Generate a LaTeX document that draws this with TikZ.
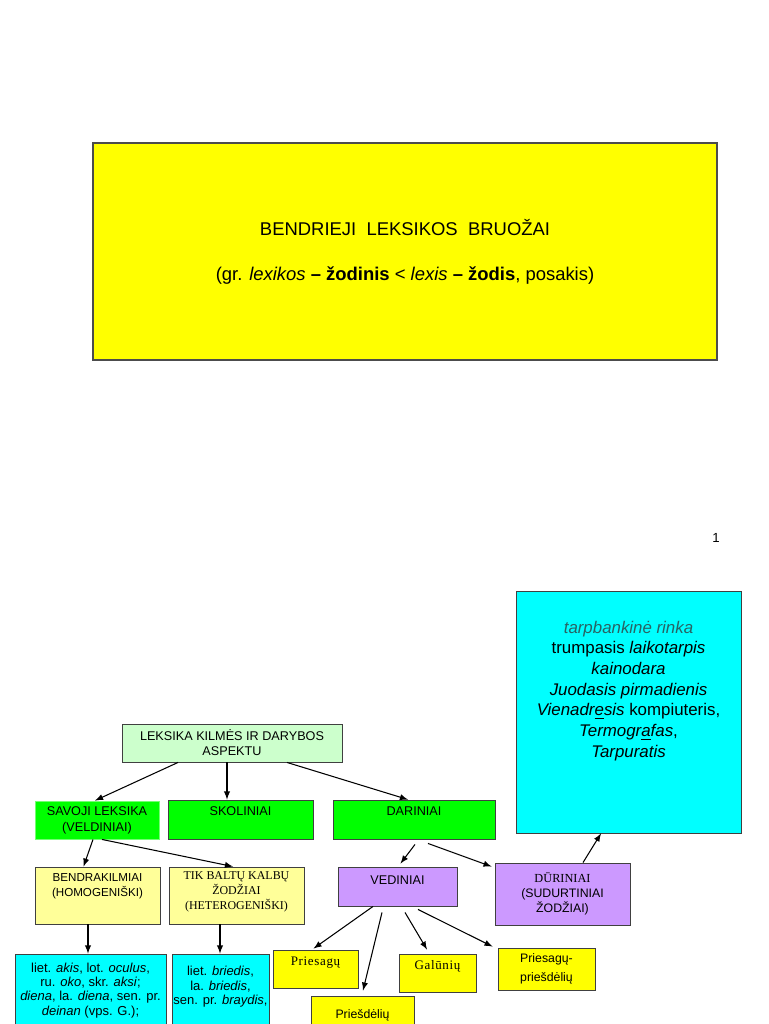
\documentclass[tikz,border=0pt]{standalone}
\usepackage{fontspec}
\setmainfont{Liberation Sans}
\newfontfamily\timesfont{Liberation Serif}
\newfontfamily\spacedtimes[LetterSpace=5]{Liberation Serif}
\usetikzlibrary{positioning,calc,arrows}

\definecolor{slideyellow}{RGB}{255,255,0}
\definecolor{slidecyan}{RGB}{0,255,255}
\definecolor{slidegreen}{RGB}{0,255,0}
\definecolor{palegreen}{RGB}{204,255,204}
\definecolor{paleyellow}{RGB}{255,255,153}
\definecolor{lavender}{RGB}{204,153,255}
\definecolor{tealgray}{RGB}{40,100,100}

\begin{document}
\begin{tikzpicture}[
  x=0.02cm, y=-0.02cm,
  slidebox/.style 2 args={draw=black!75, line width=0.5pt, rectangle, inner sep=0pt,
    minimum width=#1*0.02cm, minimum height=#2*0.02cm, align=center,
    font=\fontsize{7.2}{8.5}\selectfont},
  toptext/.style={anchor=north, align=center, inner sep=0pt,
    font=\fontsize{7.2}{8.5}\selectfont},
]
\useasboundingbox (0,0) rectangle (768,1024);
\clip (0,0) rectangle (768,1024);
\fill[white] (0,0) rectangle (768,1024);

% title slide
\node[slidebox={624}{217}, fill=slideyellow, draw=black!70, line width=0.6pt,
  font=\fontsize{10.5}{25.5}\selectfont] (title) at (405,251.5)
  {BENDRIEJI\ \ LEKSIKOS\ \ BRUOŽAI\\(gr. \textit{lexikos} \textbf{– žodinis} < \textit{lexis} \textbf{– žodis}, posakis)};
\node[font=\fontsize{7.5}{9}\selectfont] (pagenum) at (716,538) {1};

% second slide
\node[slidebox={225}{242}, fill=slidecyan,
  label={[toptext, yshift=-17pt, font=\fontsize{9.6}{11.8}\selectfont]north:{\textcolor{tealgray}{\textit{tarpbankinė rinka}}\\trumpasis \textit{laikotarpis}\\\textit{kainodara}\\\textit{Juodasis pirmadienis}\\\textit{Vienadr\underline{e}sis} kompiuteris,\\\textit{Termogr\underline{a}fas},\\\textit{Tarpuratis}}}] (examples) at (628.5,712) {};

\node[slidebox={220}{38}, fill=palegreen] (lek) at (232,743) {LEKSIKA KILMĖS IR DARYBOS\\ASPEKTU};
\node[slidebox={124}{38}, fill=slidegreen, draw=slidegreen!55!white,
  font=\fontsize{7.2}{9}\selectfont] (sav) at (97,820) {SAVOJI LEKSIKA\\(VELDINIAI)};
\node[slidebox={145}{39}, fill=slidegreen,
  label={[toptext, yshift=-3.7pt]north:SKOLINIAI}] (skol) at (240.5,819.5) {};
\node[slidebox={162}{39}, fill=slidegreen,
  label={[toptext, yshift=-3.7pt]north:DARINIAI}] (dar) at (414,819.5) {};

\node[slidebox={125}{57}, fill=paleyellow,
  label={[toptext, yshift=-4pt, font=\fontsize{6.6}{8.5}\selectfont]north:BENDRAKILMIAI\\(HOMOGENIŠKI)}] (ben) at (97.5,895.5) {};
\node[slidebox={135}{57}, fill=paleyellow,
  label={[toptext, yshift=-2.8pt, font=\timesfont\fontsize{6.8}{8.5}\selectfont]north:TIK BALTŲ KALBŲ\\ŽODŽIAI\\(HETEROGENIŠKI)}] (tik) at (236.5,895.5) {};
\node[slidebox={119}{39}, fill=lavender,
  label={[toptext, yshift=-5pt]north:VEDINIAI}] (ved) at (397.5,886.5) {};
\node[slidebox={135}{62}, fill=lavender, font=\fontsize{7}{8.5}\selectfont] (dur) at (562.5,894)
  {{\timesfont DŪRINIAI}\\(SUDURTINIAI\\ŽODŽIAI)};

\node[slidebox={151}{110}, fill=slidecyan,
  label={[toptext, yshift=-5pt, font=\fontsize{7.4}{8.2}\selectfont]north:{liet. \textit{akis}, lot. \textit{oculus},\\ru. \textit{oko}, skr. \textit{aksi};\\\textit{diena}, la. \textit{diena}, sen. pr.\\\textit{deinan} (vps. G.);}}] (cogn) at (90.5,1009) {};
\node[slidebox={97}{110}, fill=slidecyan,
  label={[toptext, yshift=-7pt, font=\fontsize{7.4}{8.2}\selectfont]north:{liet. \textit{briedis},\\la. \textit{briedis},\\sen. pr. \textit{braydis},}}] (balt) at (220.5,1009) {};

\node[slidebox={85}{38}, fill=slideyellow,
  label={[toptext, yshift=-4pt, font=\spacedtimes\fontsize{7.4}{8}\selectfont]north:Priesagų}] (suf) at (315.5,969) {};
\node[slidebox={103}{50}, fill=slideyellow,
  label={[toptext, yshift=-8pt, font=\fontsize{7}{9}\selectfont]north:Priešdėlių}] (pref) at (362.5,1021) {};
\node[slidebox={77}{38}, fill=slideyellow,
  label={[toptext, yshift=-4pt, font=\spacedtimes\fontsize{7.4}{8}\selectfont]north:Galūnių}] (gal) at (437.5,973) {};
\node[slidebox={97}{42}, fill=slideyellow, font=\fontsize{7}{10.8}\selectfont] (sufpref) at (546.5,969) {Priesagų-\\priešdėlių};

\draw[-latex, semithick] ($(lek.south)+(-54,0)$) -- ($(sav.north)+(-2,0)$);
\draw[-latex, semithick] ($(lek.south)+(-5,0)$) -- ($(skol.north)+(-13.5,0)$);
\draw[-latex, semithick] ($(lek.south)+(55,0)$) -- ($(dar.north)+(-6,0)$);
\draw[-latex, semithick] ($(sav.south)+(-4,0)$) -- ($(ben.north)+(-14,0)$);
\draw[-latex, semithick] ($(sav.south)+(5,0)$) -- ($(tik.north)+(-3.5,0)$);
\draw[-latex, semithick] ($(dar.south)+(1,5)$) -- ($(ved.north)+(3,-3)$);
\draw[-latex, semithick] ($(dar.south)+(14,4)$) -- ($(dur.north west)+(-3,4)$);
\draw[-latex, semithick] ($(dur.north)+(20.5,0)$) -- ($(examples.south)+(-27.5,0)$);
\draw[-latex, semithick] ($(ben.south)+(-9.5,0)$) -- ($(cogn.north)+(-2.5,0)$);
\draw[-latex, semithick] ($(tik.south)+(-16.5,0)$) -- ($(balt.north)+(-0.5,0)$);
\draw[-latex, semithick] ($(ved.south)+(-24.5,0)$) -- ($(suf.north)+(-2,-1)$);
\draw[-latex, semithick] ($(ved.south)+(-15.5,6)$) -- ($(pref.north)+(0.5,-5)$);
\draw[-latex, semithick] ($(ved.south)+(7.5,6)$) -- ($(gal.north)+(-10.5,-4)$);
\draw[-latex, semithick] ($(ved.south)+(20.5,3)$) -- ($(sufpref.north west)+(-5,-1)$);
\end{tikzpicture}
\end{document}
